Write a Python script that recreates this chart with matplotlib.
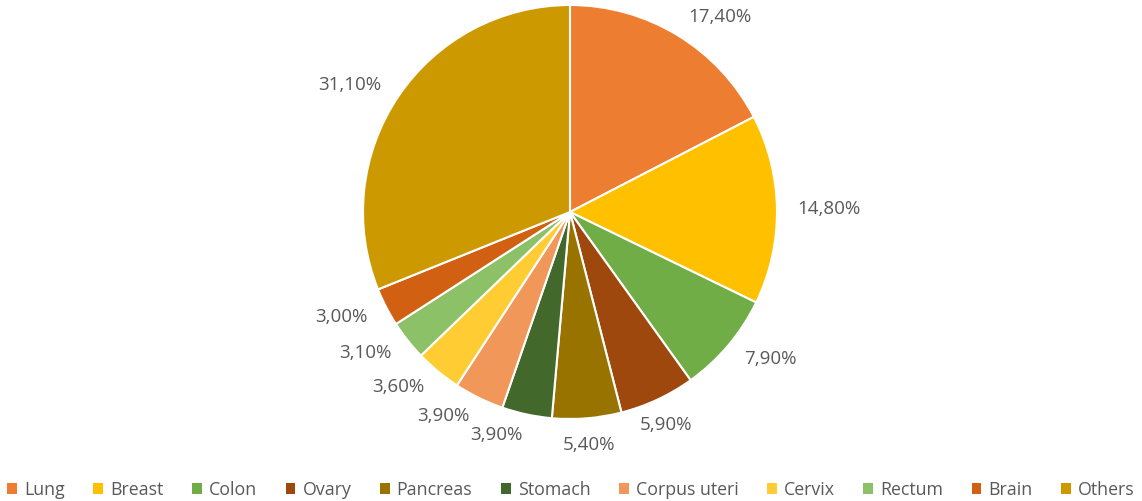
import numpy as np
import matplotlib
matplotlib.use("Agg")
import matplotlib.pyplot as plt
from matplotlib.patches import Patch

categories = ["Lung", "Breast", "Colon", "Ovary", "Pancreas", "Stomach",
              "Corpus uteri", "Cervix", "Rectum", "Brain", "Others"]
values = [17.4, 14.8, 7.9, 5.9, 5.4, 3.9, 3.9, 3.6, 3.1, 3.0, 31.1]
colors = ["#ED7D31", "#FFC000", "#70AD47", "#9E480E", "#997300", "#43682B",
          "#F1975A", "#FFCD33", "#8CC168", "#D26012", "#CC9A00"]
labels = [f"{v:.2f}%".replace(".", ",") for v in values]

plt.rcParams['font.family'] = ['Open Sans', 'DejaVu Sans']

W, H = 1142, 501
fig = plt.figure(figsize=(W / 100, H / 100), dpi=100)
cx, cy, r = 570, 212, 207
ax = fig.add_axes([(cx - r) / W, (H - cy - r) / H, 2 * r / W, 2 * r / H])
wedges, texts = ax.pie(values, colors=colors, labels=labels, startangle=90,
                       counterclock=False, labeldistance=1.1,
                       wedgeprops=dict(edgecolor="white", linewidth=1.5),
                       textprops=dict(color="#595959", fontsize=13.5))
for w, t in zip(wedges, texts):
    ang = np.deg2rad((w.theta1 + w.theta2) / 2)
    if np.cos(ang) > 0 and abs(np.cos(ang)) < 0.45 and np.sin(ang) < 0:
        t.set_ha("center")
        x, y = t.get_position()
        t.set_position((x, y - 0.03))
ax.set_xlim(-1, 1)
ax.set_ylim(-1, 1)
ax.set_aspect("equal")
ax.axis("off")

handles = [Patch(facecolor=c, edgecolor="none") for c in colors]
fig.legend(handles, categories, loc="lower center", bbox_to_anchor=(0.5, -0.028),
           ncol=len(categories), frameon=False, handlelength=0.55, handleheight=0.55,
           handletextpad=0.4, columnspacing=1.6,
           prop=dict(size=12.8), labelcolor="#595959")

fig.savefig("out.png", dpi=100)
